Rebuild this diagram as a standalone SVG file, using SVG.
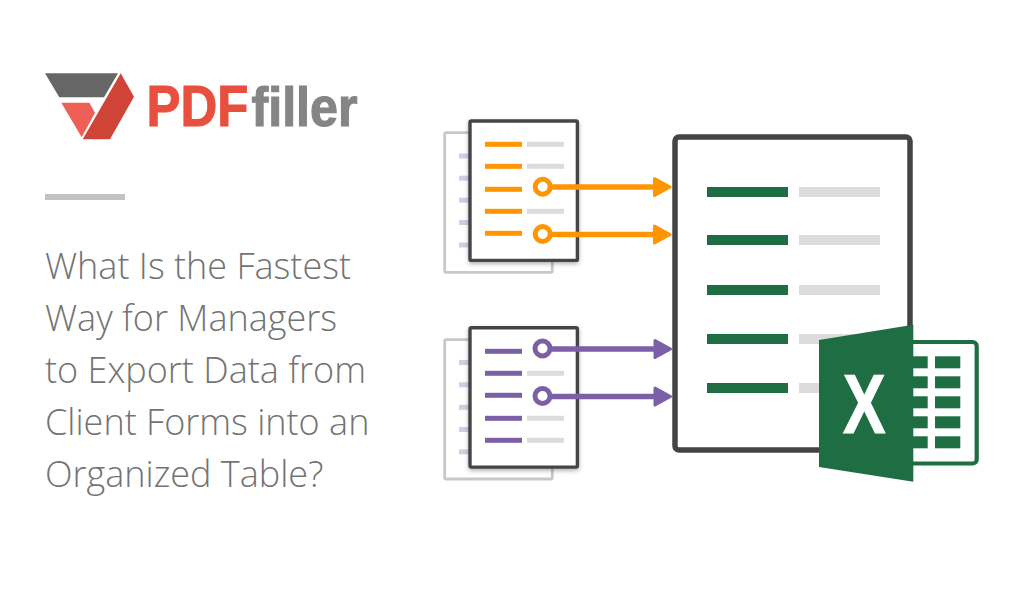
<svg xmlns="http://www.w3.org/2000/svg" width="1024" height="600" viewBox="0 0 1024 600">
<style>
.h{font-family:"Open Sans","Liberation Sans",sans-serif;font-weight:300;font-size:36px;fill:#737373}
.lg{font-family:"Liberation Sans",Arial,sans-serif;font-weight:700}
.back{fill:#fff;stroke:#c8c8c8;stroke-width:2.8}
.front{fill:#fff;stroke:#444;stroke-width:3.4;filter:url(#sh)}
.g{fill:#dcdcdc}.d{fill:#d4cce4}.o{fill:#ff9500}.p{fill:#7b60a8}.x{fill:#1f6e43}
.co{stroke:#ff9500;stroke-width:5.5;fill:none}.cp{stroke:#7b60a8;stroke-width:5.5;fill:none}
.ao{fill:#ff9500;stroke:#ff9500;stroke-width:3;stroke-linejoin:round}.ap{fill:#7b60a8;stroke:#7b60a8;stroke-width:3;stroke-linejoin:round}
.ring{fill:#fff;stroke-width:5}
</style>
<defs>
<filter id="sh" x="-10%" y="-10%" width="120%" height="120%"><feDropShadow dx="0" dy="2" stdDeviation="2" flood-color="#000" flood-opacity="0.3"/></filter>
</defs>
<rect width="1024" height="600" fill="#fff"/>
<g id="logo">
<polygon points="45,73.3 118,73.3 104,97.3 59.3,97.3" fill="#666"/>
<polygon points="61.3,102.7 89.3,102.7 95,112.7 81.7,137.3" fill="#ee6055"/>
<polygon points="120.7,73.3 134,96.7 110,139.3 82.7,139.3" fill="#cf4436"/>
<text class="lg" x="146.500" y="125.500" font-size="57" fill="#e94f3f" stroke="#e94f3f" stroke-width="1" textLength="102" lengthAdjust="spacingAndGlyphs">PDF</text>
<text class="lg" x="251.500" y="125.500" font-size="55" fill="#858585" stroke="#858585" stroke-width="1.200" textLength="106" lengthAdjust="spacingAndGlyphs">filler</text>
</g>
<rect id="rule" x="45" y="194" width="80" height="6" fill="#c2c2c2"/>
<g id="heading">
<text class="h" x="45" y="279">What Is the Fastest</text>
<text class="h" x="45" y="331">Way for Managers</text>
<text class="h" x="45" y="383">to Export Data from</text>
<text class="h" x="45" y="435">Client Forms into an</text>
<text class="h" x="45" y="487">Organized Table?</text>
</g>
<g id="target-sheet">
<rect x="675" y="137" width="235" height="313" rx="4" fill="#fff" stroke="#444" stroke-width="5.500"/>
<g class="x"><rect x="707" y="187" width="81" height="10"/><rect x="707" y="235" width="81" height="10"/><rect x="707" y="285" width="81" height="10"/><rect x="707" y="334" width="81" height="10"/><rect x="707" y="383" width="81" height="10"/></g>
<g class="g"><rect x="799" y="187" width="81" height="10"/><rect x="799" y="235" width="81" height="10"/><rect x="799" y="285" width="81" height="10"/><rect x="799" y="334" width="81" height="10"/><rect x="799" y="383" width="81" height="10"/></g>
</g>
<g id="form-orange">
<rect class="back" x="444.7" y="132.7" width="107.6" height="139.6" rx="1.5"/>
<g class="d"><rect x="459" y="153.5" width="11" height="5"/><rect x="459" y="175.7" width="11" height="5"/><rect x="459" y="197.7" width="11" height="5"/><rect x="459" y="220" width="11" height="5"/><rect x="459" y="242.5" width="11" height="5"/></g>
<rect class="front" x="470" y="121" width="107.400" height="139.400" rx="1.5"/>
<g class="o"><rect x="485" y="141.8" width="37" height="5"/><rect x="485" y="163.8" width="37" height="5"/><rect x="485" y="186.8" width="37" height="5"/><rect x="485" y="208.8" width="37" height="5"/><rect x="485" y="230.8" width="37" height="5"/></g>
<g class="g"><rect x="527" y="141.8" width="37" height="5"/><rect x="527" y="163.8" width="37" height="5"/><rect x="527" y="208.8" width="37" height="5"/></g>
</g>
<g id="form-purple">
<rect class="back" x="444.7" y="339.7" width="107.6" height="139.3" rx="1.5"/>
<g class="d"><rect x="459" y="360" width="11" height="5"/><rect x="459" y="382.3" width="11" height="5"/><rect x="459" y="404.8" width="11" height="5"/><rect x="459" y="427" width="11" height="5"/><rect x="459" y="449.3" width="11" height="5"/></g>
<rect class="front" x="470" y="327.700" width="107.400" height="139.400" rx="1.5"/>
<g class="p"><rect x="485" y="348.8" width="37" height="5"/><rect x="485" y="370.8" width="37" height="5"/><rect x="485" y="392.8" width="37" height="5"/><rect x="485" y="415.8" width="37" height="5"/><rect x="485" y="437.8" width="37" height="5"/></g>
<g class="g"><rect x="527" y="370.8" width="37" height="5"/><rect x="527" y="415.8" width="37" height="5"/><rect x="527" y="437.8" width="37" height="5"/></g>
</g>
<g id="connectors">
<path class="co" d="M552 187H656M552 234.500H656"/>
<path class="cp" d="M552 349H656M552 396.500H656"/>
<polygon class="ao" points="654.500,178.500 670,187 654.500,195.500"/>
<polygon class="ao" points="654.500,226 670,234.500 654.500,243"/>
<polygon class="ap" points="655,340.500 670.500,349 655,357.500"/>
<polygon class="ap" points="655,388 670.500,396.500 655,405"/>
<circle class="ring" cx="542.700" cy="186.800" r="7.500" stroke="#ff9500"/>
<circle class="ring" cx="542.700" cy="234" r="7.500" stroke="#ff9500"/>
<circle class="ring" cx="542.500" cy="348.500" r="7.500" stroke="#7b60a8"/>
<circle class="ring" cx="542.500" cy="396" r="7.500" stroke="#7b60a8"/>
</g>
<g id="excel-icon">
<rect x="900" y="342" width="76.700" height="121.500" rx="4" fill="#fff" stroke="#1f6e43" stroke-width="4.200"/>
<g class="x"><rect x="913" y="356.300" width="14.700" height="12"/><rect x="935" y="356.300" width="25.300" height="12"/><rect x="913" y="376.300" width="14.700" height="12"/><rect x="935" y="376.300" width="25.300" height="12"/><rect x="913" y="396.300" width="14.700" height="12"/><rect x="935" y="396.300" width="25.300" height="12"/><rect x="913" y="416.300" width="14.700" height="12"/><rect x="935" y="416.300" width="25.300" height="12"/><rect x="913" y="436.300" width="14.700" height="12"/><rect x="935" y="436.300" width="25.300" height="12"/></g>
<polygon class="x" points="819,340 913.300,324.700 913.300,481.700 819,467"/>
<text class="lg" x="843" y="432.700" font-size="83" fill="#fff" stroke="#fff" stroke-width="1.200" textLength="42.500" lengthAdjust="spacingAndGlyphs">X</text>
</g>
</svg>
